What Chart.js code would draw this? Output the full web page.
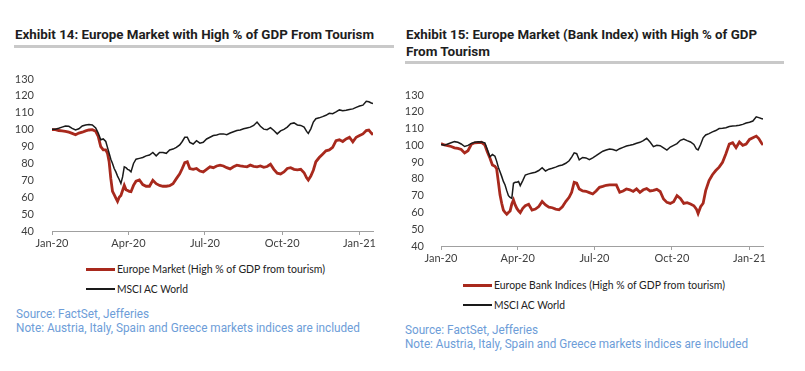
<!DOCTYPE html>
<html>
<head>
<meta charset="utf-8">
<script src="https://cdn.jsdelivr.net/npm/chart.js@4/dist/chart.umd.min.js"></script>
<style>
  html, body { margin:0; padding:0; background:#fff; }
  body { width:805px; height:371px; position:relative; overflow:hidden; font-family: Roboto, "Liberation Sans", sans-serif; }
  .abs { position:absolute; white-space:nowrap; transform-origin:0 50%; }
  .title { font-family: Roboto, sans-serif; font-weight:700; font-size:13px; color:#1e1e1e; line-height:16px; }
  .bar { position:absolute; background:#c9c9c9; height:3px; }
  .leg { font-family: Lato, "Liberation Sans", sans-serif; font-size:11px; color:#222; line-height:14px; }
  .swatch { position:absolute; height:3px; }
  .src { font-family: Roboto, sans-serif; font-size:12px; color:#6d9dd8; line-height:14px; }
  canvas { position:absolute; }
</style>
</head>
<body>
<div class="abs title" style="left:15px; top:27px;" data-w="359">Exhibit 14: Europe Market with High % of GDP From Tourism</div>
<div class="bar" style="left:14px; top:45px; width:380px;"></div>
<div class="abs title" style="left:406px; top:27px;" data-w="351">Exhibit 15: Europe Market (Bank Index) with High % of GDP</div>
<div class="abs title" style="left:406px; top:44px;" data-w="84">From Tourism</div>
<div class="bar" style="left:405px; top:61px; width:379px;"></div>

<canvas id="c1" width="400" height="195" style="left:0px; top:60px;"></canvas>
<canvas id="c2" width="405" height="195" style="left:400px; top:75px;"></canvas>

<div class="swatch" style="left:86px; top:268px; width:29px; background:#a8291d;"></div>
<div class="abs leg" style="left:117px; top:262px;" data-w="208">Europe Market (High % of GDP from tourism)</div>
<div class="swatch" style="left:86px; top:288px; width:29px; height:2px; background:#1a1a1a;"></div>
<div class="abs leg" style="left:117px; top:282px;" data-w="71">MSCI AC World</div>
<div class="abs src" style="left:16px; top:307px;" data-w="133">Source: FactSet, Jefferies</div>
<div class="abs src" style="left:16px; top:321px;" data-w="344">Note: Austria, Italy, Spain and Greece markets indices are included</div>

<div class="swatch" style="left:463px; top:284px; width:29px; background:#a8291d;"></div>
<div class="abs leg" style="left:494px; top:278px;" data-w="231">Europe Bank Indices (High % of GDP from tourism)</div>
<div class="swatch" style="left:463px; top:304px; width:29px; height:2px; background:#1a1a1a;"></div>
<div class="abs leg" style="left:494px; top:298px;" data-w="71">MSCI AC World</div>
<div class="abs src" style="left:405px; top:323px;" data-w="133">Source: FactSet, Jefferies</div>
<div class="abs src" style="left:405px; top:337px;" data-w="343">Note: Austria, Italy, Spain and Greece markets indices are included</div>

<script>
// ---- data (x = days since 1 Jan 2020) ----
const days = [0,4,8,12,16,20,24,28,32,36,40,44,48,52,55,58,61,64,66,68,70,72,74,76,78,80,82,84,86,88,90,92,94,97,100,104,108,112,116,120,124,128,132,136,140,144,148,152,155,158,161,164,168,172,176,180,184,188,192,196,200,204,208,212,216,220,224,228,232,236,240,244,248,252,256,260,264,268,272,276,280,284,288,292,296,300,303,305,308,311,314,318,322,326,330,334,338,342,346,350,354,358,362,366,370,374,377,380,382];

const tickDays = [0,91,182,274,366];
const tickLabels = ['Jan-20','Apr-20','Jul-20','Oct-20','Jan-21'];

const leftEurope = [100,100,99.5,99.3,99,98.5,97.8,97,98,98.5,99.3,99.8,100,99,96,90,88,88,86,81,71,63.5,61.5,59.5,57.5,60,61,64,67,64.5,64,63.5,63.3,67,69.5,70.2,67.5,66.5,66.5,70,68,67,66.5,66.5,66.8,68,71,73.8,77,80.5,81,77,76.5,77,75.5,75,76.5,78,77.5,78.5,79,78.5,77.5,76.8,78,79,78.5,78.2,78,79,78.3,78,78.5,77.7,78.2,79.5,76.5,74.2,73.8,75,77,77.5,76.5,76.2,76.5,74.5,71.5,70.2,72.5,76,81,83.5,85.5,87.5,88,89.5,93.5,94,93,94.5,95.5,92.8,95.5,96.5,97.5,99.5,99.8,98,97];

const leftMsci = [100.3,100.2,100.8,101.5,102.2,102,100.8,99.8,100.5,102.2,102.8,103,102.8,101,98,94,94.5,93,89.5,86,82.5,80,77,75,72.5,70.5,68.2,72,78,77.5,76.5,76,75,80,82.5,83,83.5,84.5,85,86.5,84.5,86.5,86.5,86,88,88.5,89.5,91,93,95.5,95.5,92.5,91.5,93.5,92,92.5,94.5,95.5,96.5,96.8,97.5,97.5,97,98,98.8,99.5,99.8,100.5,101,101.5,102.5,104.5,102,100.3,100,101.2,99.5,97.5,99.3,100.2,101.5,103.5,104,102.8,102.5,101.5,99,97.8,100.5,104.5,106.5,107,107.7,108.5,109.7,109.5,110.5,111.7,111.2,111.5,112,112.3,113.2,114,114.5,116.8,116.5,115.8,115.5];

const rightBanks = [101,100.2,99.8,99.3,98.5,98.2,97.5,95.5,96.8,100.6,101.5,101.6,101.8,100.2,96,92.5,88.3,87.5,86,78.4,70.5,65.5,61.4,60,58.9,60,60.9,65,67.4,64.5,62.4,61,59.9,62.5,64,64.9,61.4,62,63.5,66.5,64.5,63.2,62.8,62,61.6,63.4,66.5,69,72,78,77.5,74,72.8,72.6,71.8,71,72.8,75,75.5,76.2,76.4,76.4,76.4,72,72.8,74,73.5,72.5,74,72,73.5,74.2,72.8,73.2,73.8,72.5,68,66,65.4,66.4,70,68.4,65.4,65.8,65,64,62,59.4,63.4,65.5,73,79,82.5,85,87,89.9,95,100.7,101.5,98.6,102,100,100.8,103.5,104.5,105.5,104,101.5,100.2];

const rightMsci = [100.5,100,100.8,101.5,102.2,101.8,100.8,99.3,100,101.2,101.8,102.2,102,101.5,97.5,93.2,94.5,93.5,90.6,87,84.3,81.5,78.5,76.4,73,70,69,68.4,77.4,78,78,78.4,76,79,82.3,83,83.5,84,85,86.7,84.7,85.8,86.3,87,87.8,88.3,89.3,90.8,93,95.5,95,91.3,92.8,92.5,91.5,92.5,93.8,95.2,96.5,97.2,97.8,97.5,96.8,98,98.8,99.6,100,100.5,101.2,101.8,102.8,104.2,102,99.2,100,99.8,98.5,97.2,99,100,101,103,103.8,102.8,102,100.5,97.8,97.3,100.5,104.5,106.2,107,108,108.8,110,110.2,110.5,111.2,111.5,111.7,112,112.5,113.3,113.8,114.5,117,116.5,116,115.7];

const leftNames = ['MSCI AC World','Europe Market (High % of GDP from tourism)'];
const rightNames = ['MSCI AC World','Europe Bank Indices (High % of GDP from tourism)'];

const RED = '#a8291d', BLACK = '#1a1a1a', AXIS = '#a0a0a0', TICK = '#404040';
const pts = (vals) => days.map((d, i) => ({ x: d, y: vals[i] }));

function makeChart(id, names, black, red, yWidth, padTop, padRight, yPad) {
  return new Chart(document.getElementById(id), {
    type: 'line',
    data: {
      datasets: [
        { label: names[0], data: pts(black), borderColor: BLACK, borderWidth: 1.5, pointRadius: 0, tension: 0 },
        { label: names[1], data: pts(red), borderColor: RED, borderWidth: 2.8, pointRadius: 0, tension: 0 }
      ]
    },
    options: {
      responsive: false,
      animation: false,
      layout: { padding: { top: padTop, right: padRight, left: 0, bottom: 0 } },
      plugins: { legend: { display: false }, tooltip: { enabled: false } },
      scales: {
        x: {
          type: 'linear', min: 0, max: 382,
          afterBuildTicks: (s) => { s.ticks = tickDays.map(v => ({ value: v })); },
          afterFit: (s) => { s.height = 24; },
          ticks: {
            callback: (v) => tickLabels[tickDays.indexOf(v)],
            font: { family: 'Lato', size: 11 }, color: TICK,
            maxRotation: 0, autoSkip: false, padding: 2
          },
          grid: { display: true, drawOnChartArea: false, drawTicks: true, tickLength: 4, color: AXIS },
          border: { display: true, color: AXIS, width: 1 }
        },
        y: {
          min: 40, max: 130,
          afterFit: (s) => { s.width = yWidth; },
          ticks: { stepSize: 10, font: { family: 'Lato', size: 11 }, color: TICK, padding: yPad },
          grid: { display: false },
          border: { display: false }
        }
      }
    }
  });
}

makeChart('c1', leftNames, leftMsci, leftEurope, 52, 19, 27, 10);
makeChart('c2', rightNames, rightMsci, rightBanks, 41, 20, 42, 9);

// fit text widths
document.querySelectorAll('[data-w]').forEach(el => {
  const w = el.getBoundingClientRect().width;
  const target = parseFloat(el.dataset.w);
  if (w > 0) el.style.transform = 'scaleX(' + (target / w) + ')';
});
</script>
</body>
</html>
